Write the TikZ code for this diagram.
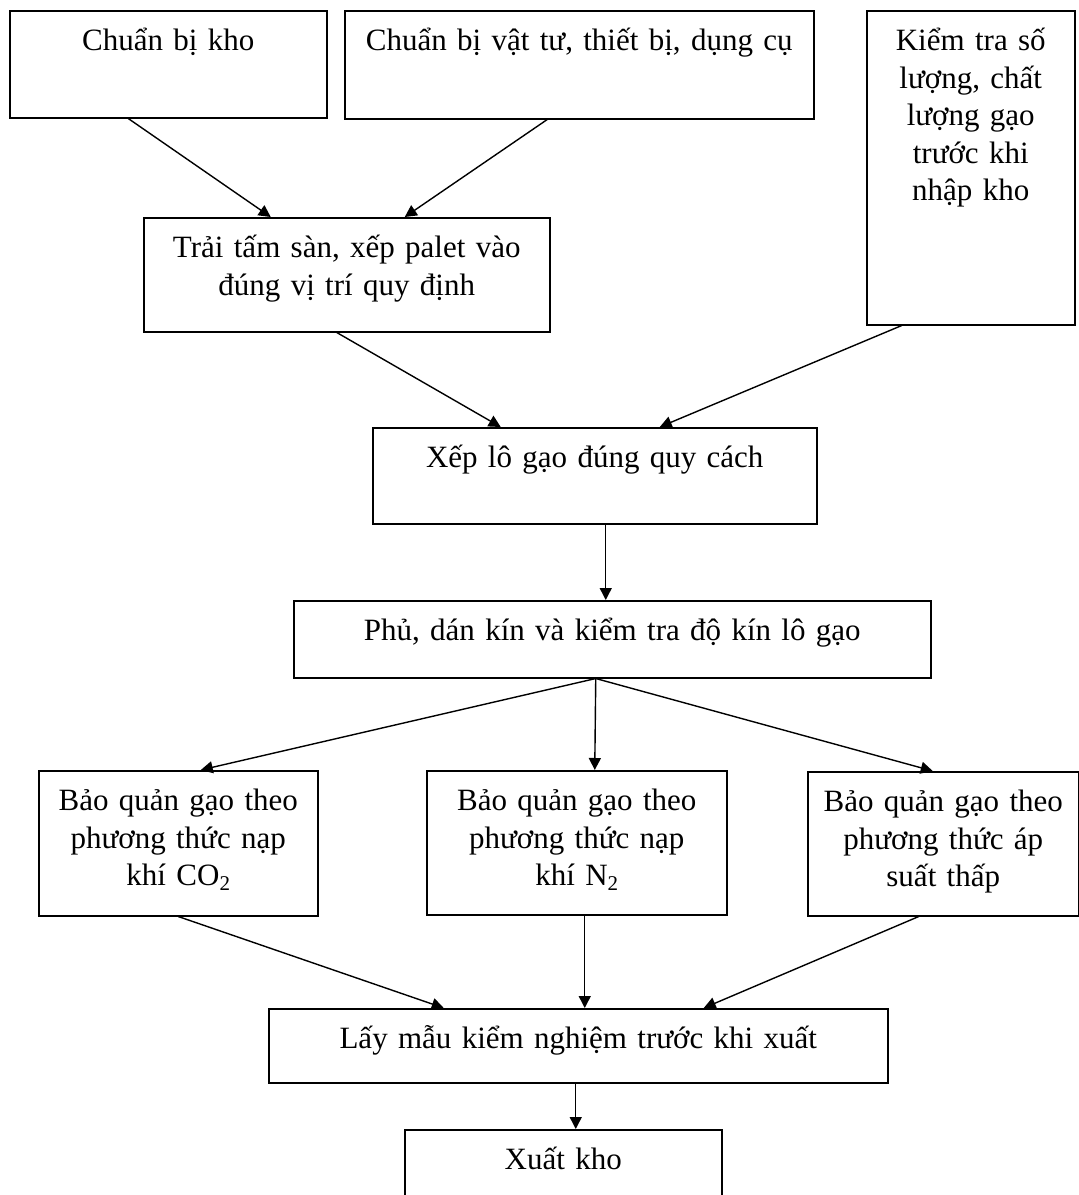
\documentclass[tikz,border=0pt]{standalone}
\usepackage{fontspec}
\setmainfont{Liberation Serif}
\usetikzlibrary{arrows.meta}
\newcommand{\lowtwo}{\raisebox{-0.35ex}{\fontsize{10.5pt}{10.5pt}\selectfont 2}}

\begin{document}
\begin{tikzpicture}[
   x=0.5pt, y=-0.5pt,
   stepbox/.style={draw, line width=0.75pt, inner sep=0pt, align=center,
     anchor=north west, text height=20pt,
     font=\fontsize{15.5pt}{18.75pt}\selectfont},
   flow/.style={line width=0.7pt,
     -{Triangle[length=6pt,width=6pt]}}]

\clip (0,0) rectangle (1079,1195);

% top row
\node[stepbox, text width=158.5pt, text depth=33.5pt] (kho) at (9,10) {Chuẩn bị kho};
\node[stepbox, text width=234.5pt, text depth=34pt] (vattu) at (344,10)
   {Chuẩn bị vật tư, thiết bị, dụng cụ};
\node[stepbox, text width=104pt, text depth=137pt] (kiemtra) at (866,10)
   {Kiểm tra số\\lượng, chất\\lượng gạo\\trước khi\\nhập kho};
\node[stepbox, text width=203pt, text depth=37pt] (traitam) at (143,217)
   {Trải tấm sàn, xếp palet vào\\đúng vị trí quy định};

% middle
\node[stepbox, text width=222pt, text depth=28pt] (xeplo) at (372,427)
   {Xếp lô gạo đúng quy cách};
\node[stepbox, text width=318.5pt, text depth=18.5pt] (phukin) at (293,600)
   {Phủ, dán kín và kiểm tra độ kín lô gạo};

% three ways of storing
\node[stepbox, text width=139.5pt, text depth=52.5pt] (napco) at (38,770)
   {Bảo quản gạo theo\\phương thức nạp\\khí CO\lowtwo};
\node[stepbox, text width=150pt, text depth=52pt] (napn) at (426,770)
   {Bảo quản gạo theo\\phương thức nạp\\khí N\lowtwo};
\node[stepbox, text width=135.5pt, text depth=52pt] (apsuat) at (807,771)
   {Bảo quản gạo theo\\phương thức áp\\suất thấp};

% bottom
\node[stepbox, text width=309.5pt, text depth=17pt] (laymau) at (268,1008)
   {Lấy mẫu kiểm nghiệm trước khi xuất};
\node[stepbox, text width=158.5pt, text depth=22pt] (xuat) at (404,1129)
   {Xuất kho};

\draw[flow] ([xshift=-20pt]kho.south) -- ([xshift=-38pt]traitam.north);
\draw[flow] ([xshift=-16pt]vattu.south) -- ([xshift=29pt]traitam.north);
\draw[flow] ([xshift=-5pt]traitam.south) -- ([xshift=-47pt]xeplo.north);
\draw[flow] ([xshift=-34.5pt]kiemtra.south) -- ([xshift=32.5pt]xeplo.north);
\draw[flow] ([xshift=5.5pt]xeplo.south) -- ([xshift=-3.25pt]phukin.north);

\draw[flow] ([xshift=-8.25pt]phukin.south) -- ([xshift=11.25pt]napco.north);
\draw[flow] ([xshift=-8.25pt]phukin.south) -- ([xshift=9pt]napn.north);
\draw[flow] ([xshift=-8.25pt]phukin.south) -- ([xshift=-5.25pt]apsuat.north);

\draw[flow] (napco.south) -- ([xshift=-67.25pt]laymau.north);
\draw[flow] ([xshift=4pt]napn.south) -- ([xshift=3.25pt]laymau.north);
\draw[flow] ([xshift=-12.25pt]apsuat.south) -- ([xshift=62.75pt]laymau.north);
\draw[flow] ([xshift=-1.25pt]laymau.south) -- ([xshift=6.25pt]xuat.north);

\end{tikzpicture}
\end{document}
